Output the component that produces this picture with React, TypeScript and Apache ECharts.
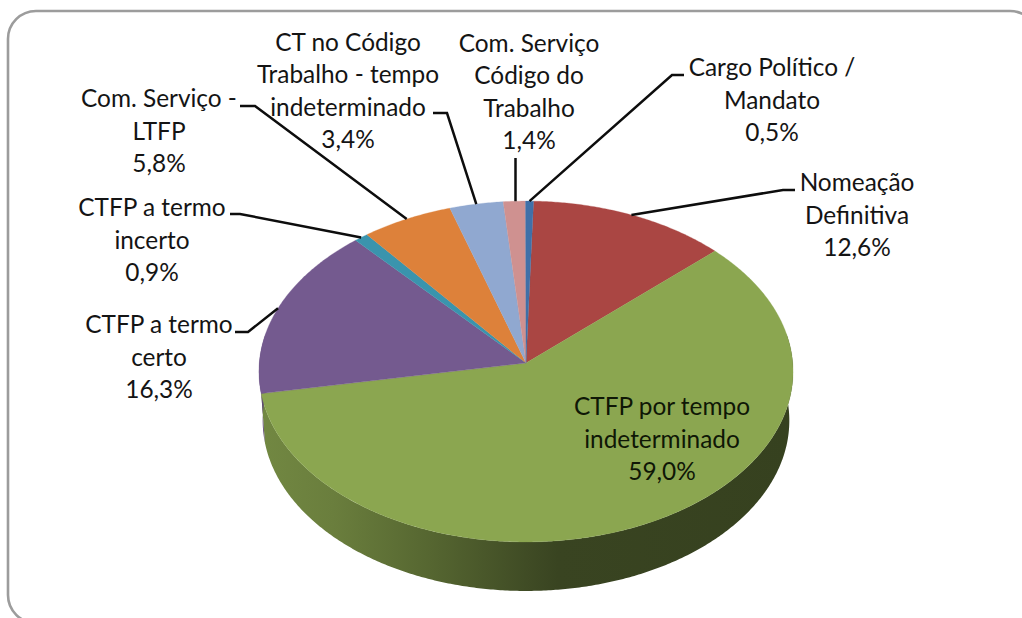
import React, { useEffect, useRef } from "react";
import * as echarts from "echarts";

const categories = [
  "Nomeação\nDefinitiva",
  "CTFP por tempo\nindeterminado",
  "CTFP a termo\ncerto",
  "CTFP a termo\nincerto",
  "Com. Serviço -\nLTFP",
  "CT no Código\nTrabalho - tempo\nindeterminado",
  "Com. Serviço\nCódigo do\nTrabalho",
  "Cargo Político /\nMandato",
];
const values = [12.6, 59.0, 16.3, 0.9, 5.8, 3.4, 1.4, 0.5];
const colors = ["#AA4643", "#8BA650", "#745A8F", "#3A94AD", "#DD813A", "#90A8D0", "#CF9190", "#4070A8"];

// layout: centre of each label block, and the two fixed points of each leader line
const labelCentres: [number, number][] = [
  [857, 214], [662, 438], [159, 356], [152, 239], [159, 130], [348, 90], [529, 91], [772, 99],
];
const leaderPoints: ([number, number][] | null)[] = [
  [[795, 190], [783, 190]],
  null,
  [[235, 332], [248, 332]],
  [[230, 214], [240, 214]],
  [[240, 106], [255, 106]],
  [[433, 113], [447, 113]],
  [[515.5, 158]],
  [[684, 75], [672, 75]],
];

const START_DEG = 1.7;
const TILT = 0.05;
const TOP = { cx: 526, cy: 363, rx: 266.7, ry: 170 };
const BOTTOM = { cx: 526, cy: 412, rx: 263, ry: 170 };
const SHADE_STOPS: [number, number][] = [[0, 0.82], [0.14, 0.76], [0.3, 0.63], [0.5, 0.46], [0.56, 0.41], [1, 0.39]];

const total = values.reduce((a, b) => a + b, 0);
const starts: number[] = [];
values.reduce((acc, v, i) => {
  starts[i] = acc;
  return acc + (v / total) * 360;
}, START_DEG);
const endOf = (i: number) => starts[i] + (values[i] / total) * 360;

const project = (deg: number, e = TOP): [number, number] => {
  const t = (deg * Math.PI) / 180;
  const X = Math.sin(t);
  const Y = Math.cos(t);
  const w = 1 + TILT * Y;
  return [e.cx + (e.rx * X) / w, e.cy - (e.ry * Y) / w];
};

const arcPoints = (a: number, b: number, e = TOP): [number, number][] => {
  const pts: [number, number][] = [];
  const n = Math.max(2, Math.ceil(Math.abs(b - a) * 2));
  for (let k = 0; k <= n; k++) pts.push(project(a + ((b - a) * k) / n, e));
  return pts;
};

const shade = (hex: string, f: number) => {
  const n = parseInt(hex.slice(1), 16);
  const c = [(n >> 16) & 255, (n >> 8) & 255, n & 255].map((v) => Math.round(v * f));
  return `rgb(${c[0]},${c[1]},${c[2]})`;
};

const FONT = "Lato";

function buildOption() {
  const common = { type: "custom" as const, coordinateSystem: "none" as const, data: values, silent: true, clip: false };
  return {
    animation: false,
    backgroundColor: "#ffffff",
    graphic: [
      {
        type: "rect",
        z: -10,
        shape: { x: 8, y: 11, width: 1030, height: 612, r: 28 },
        style: { fill: "#ffffff", stroke: "#9c9c9c", lineWidth: 2.6 },
      },
    ],
    series: [
      {
        ...common,
        z: 2,
        renderItem: (p: any) => {
          const i = p.dataIndex;
          const a = Math.max(starts[i], 80);
          const b = Math.min(endOf(i), 280);
          if (b <= a) return { type: "group", children: [] };
          const pts = [...arcPoints(a, b), ...arcPoints(b, a, BOTTOM)];
          return {
            type: "polygon",
            shape: { points: pts },
            style: {
              fill: {
                type: "linear", x: 259, y: 0, x2: 793, y2: 0, global: true,
                colorStops: SHADE_STOPS.map(([offset, f]) => ({ offset, color: shade(colors[i], f) })),
              },
            },
          };
        },
      },
      {
        ...common,
        z: 3,
        renderItem: (p: any) => {
          const i = p.dataIndex;
          const pts = [[TOP.cx, TOP.cy], ...arcPoints(starts[i], endOf(i))];
          return {
            type: "polygon",
            shape: { points: pts },
            style: { fill: colors[i], stroke: colors[i], lineWidth: 0.3 },
          };
        },
      },
      {
        ...common,
        z: 4,
        renderItem: (p: any) => {
          const i = p.dataIndex;
          const fixed = leaderPoints[i];
          if (!fixed) return { type: "group", children: [] };
          const anchor = project((starts[i] + endOf(i)) / 2);
          const pts = [...fixed, i === 6 ? [fixed[0][0], anchor[1]] : anchor];
          return {
            type: "polyline",
            shape: { points: pts },
            style: { fill: "none", stroke: "#0d0d0d", lineWidth: 2.5 },
          };
        },
      },
      {
        ...common,
        z: 5,
        renderItem: (p: any) => {
          const i = p.dataIndex;
          const [x, y] = labelCentres[i];
          return {
            type: "text",
            style: {
              text: `${categories[i]}\n${values[i].toFixed(1).replace(".", ",")}%`,
              x,
              y,
              align: "center",
              verticalAlign: "middle",
              fontFamily: FONT,
              fontSize: 24.4,
              lineHeight: 32.6,
              fill: i === 1 ? "#0f1706" : "#141414",
            },
          };
        },
      },
    ],
  };
}

export default function App() {
  const ref = useRef<HTMLDivElement>(null);
  useEffect(() => {
    document.body.style.margin = "0";
    const chart = echarts.init(ref.current!, undefined, { renderer: "svg" });
    chart.setOption(buildOption() as any);
    return () => chart.dispose();
  }, []);
  return <div ref={ref} style={{ width: 1022, height: 618 }} />;
}
